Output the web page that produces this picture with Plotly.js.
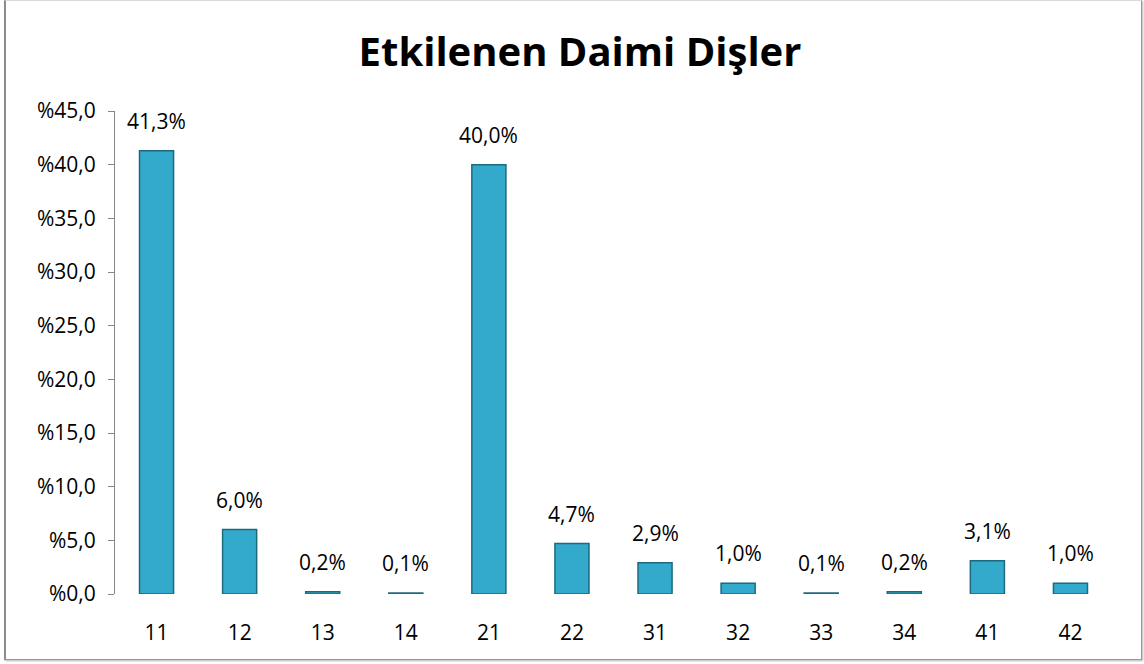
<!DOCTYPE html>
<html>
<head>
<meta charset="utf-8">
<script src="https://cdn.plot.ly/plotly-3.0.1.min.js"></script>
<style>
html,body{margin:0;padding:0;background:#fff;}
#chart{width:1144px;height:664px;}
#frame{position:absolute;left:4px;top:0px;width:1135px;height:658px;border:1px solid #9a9a9a;border-left:2px solid #8c8c8c;border-top:1px solid #d9d9d9;box-shadow:1px 1px 2px rgba(0,0,0,0.3);pointer-events:none;}
</style>
</head>
<body>
<div id="chart"></div>
<div id="frame"></div>
<script>
const categories = ["11","12","13","14","21","22","31","32","33","34","41","42"];
const values = [41.3, 6.0, 0.2, 0.1, 40.0, 4.7, 2.9, 1.0, 0.1, 0.2, 3.1, 1.0];
const labels = ["41,3%","6,0%","0,2%","0,1%","40,0%","4,7%","2,9%","1,0%","0,1%","0,2%","3,1%","1,0%"];
const yTickVals = [0,5,10,15,20,25,30,35,40,45];
const yTickText = ["%0,0","%5,0","%10,0","%15,0","%20,0","%25,0","%30,0","%35,0","%40,0","%45,0"];

const font = "Open Sans, Noto Sans, sans-serif";

const traces = [{
  type: "bar",
  x: categories,
  y: values,
  marker: {color: "#33aacb", line: {color: "#1c6a80", width: 1.5}},
  hoverinfo: "skip"
}];

// annotations on a category axis are placed by category index
const annotations = categories.map((c, i) => ({
  x: i, y: values[i], xref: "x", yref: "y",
  text: labels[i], showarrow: false,
  yanchor: "bottom", yshift: 14,
  font: {family: font, size: 21, color: "#000"}
}));

const layout = {
  width: 1144, height: 664,
  margin: {l: 115, r: 32, t: 111, b: 70},
  paper_bgcolor: "#fff", plot_bgcolor: "#fff",
  title: {text: "<b>Etkilenen Daimi Dişler</b>", font: {family: font, size: 40, color: "#000"},
          xref: "container", x: 0.507, xanchor: "center", yref: "container", y: 1 - 52/664, yanchor: "middle"},
  bargap: 0.59,
  showlegend: false,
  xaxis: {type: "category", range: [-0.5, categories.length - 0.5], showline: false, showgrid: false, zeroline: false,
          ticks: "outside", ticklen: 20, tickcolor: "rgba(0,0,0,0)",
          tickfont: {family: font, size: 21, color: "#000"}},
  yaxis: {range: [0, 45], tickvals: yTickVals, ticktext: yTickText,
          showline: true, linecolor: "#868686", linewidth: 1,
          ticks: "outside", ticklen: 6, tickcolor: "#868686",
          ticklabelstandoff: 8,
          showgrid: false, zeroline: false,
          tickfont: {family: font, size: 21, color: "#000"}},
  annotations: annotations
};

Plotly.newPlot("chart", traces, layout, {displayModeBar: false, staticPlot: true});
</script>
</body>
</html>
